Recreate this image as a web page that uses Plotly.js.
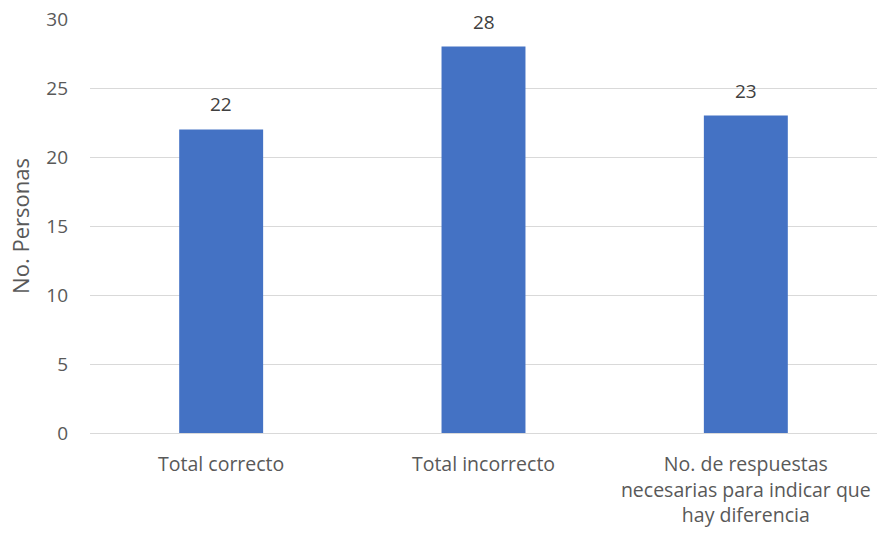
<!DOCTYPE html>
<html><head><meta charset="utf-8">
<script src="https://cdn.plot.ly/plotly-3.0.1.min.js"></script>
<style>html,body{margin:0;padding:0;background:#fff}</style>
</head><body>
<div id="chart" style="width:877px;height:535px"></div>
<script>
const categories = ["Total correcto", "Total incorrecto", "No. de respuestas<br>necesarias para indicar que<br>hay diferencia"];
const values = [22, 28, 23];
const yTickVals = [0, 5, 10, 15, 20, 25, 30];

const FONT = "Open Sans, sans-serif";
const trace = {
  type: "bar",
  x: categories,
  y: values,
  marker: {color: "#4472C4"},
  hoverinfo: "none"
};
const annotations = categories.map((c, i) => ({
  x: c, y: values[i], xref: "x", yref: "y",
  text: String(values[i]), showarrow: false,
  yanchor: "middle", yshift: 25,
  font: {family: FONT, size: 19, color: "#404040"}
}));
const layout = {
  width: 877, height: 535,
  margin: {l: 90, r: 0, t: 19, b: 102},
  paper_bgcolor: "#fff", plot_bgcolor: "#fff",
  bargap: 0.68,
  showlegend: false,
  font: {family: FONT, color: "#595959", size: 19},
  annotations: annotations,
  xaxis: {
    type: "category",
    showgrid: false, zeroline: false,
    showline: true, linecolor: "#D9D9D9", linewidth: 1,
    tickfont: {family: FONT, size: 19.5, color: "#595959"},
    ticks: "", ticklabelstandoff: 14
  },
  yaxis: {
    range: [0, 30],
    tickvals: yTickVals,
    showgrid: true, gridcolor: "#D9D9D9", gridwidth: 1,
    zeroline: false, showline: false,
    ticks: "", ticklabelstandoff: 21,
    tickfont: {family: FONT, size: 19, color: "#595959"},
    title: {text: "No. Personas", font: {family: FONT, size: 22, color: "#595959"}, standoff: 10}
  }
};
Plotly.newPlot("chart", [trace], layout, {displayModeBar: false, staticPlot: true});
</script>
</body></html>
